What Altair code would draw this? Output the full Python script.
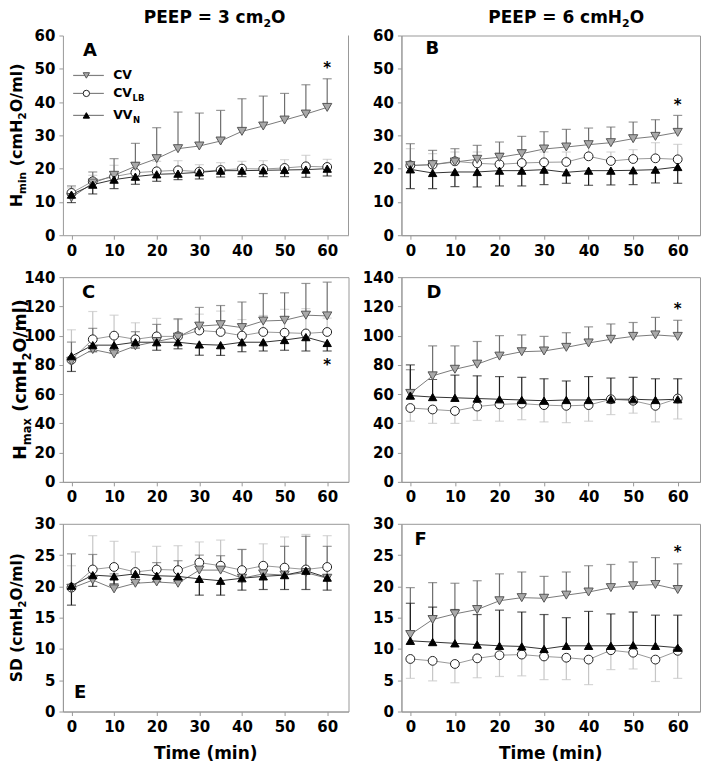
import altair as alt
import pandas as pd

TIME = [0, 5, 10, 15, 20, 25, 30, 35, 40, 45, 50, 55, 60]
XTICKS = [0, 10, 20, 30, 40, 50, 60]

# Panel A: Hmin, PEEP 3
A_CV = [11.3, 15.7, 18.0, 20.7, 23.0, 26.0, 26.8, 28.3, 31.2, 32.8, 34.6, 36.4, 38.4]
A_CV_HI = [14.8, 19.0, 23.0, 27.6, 32.3, 37.0, 36.7, 37.5, 41.0, 41.8, 42.6, 45.2, 47.0]
A_LB = [12.7, 16.2, 17.6, 18.8, 19.2, 19.5, 19.1, 19.6, 20.0, 19.9, 20.2, 20.7, 20.5]
A_LB_HI = [14.2, 18.0, 21.0, 22.0, 22.2, 22.4, 21.2, 21.8, 22.2, 22.4, 22.7, 24.0, 22.8]
A_VV = [12.2, 15.2, 16.7, 17.6, 18.3, 18.5, 18.9, 19.4, 19.4, 19.5, 19.6, 19.7, 20.0]
A_VV_LO = [9.8, 12.4, 14.0, 15.3, 16.2, 16.7, 16.9, 17.5, 17.6, 17.6, 17.6, 17.4, 17.8]

# Panel B: Hmin, PEEP 6
B_CV = [20.9, 21.2, 22.0, 22.8, 23.4, 24.5, 25.9, 26.5, 27.2, 27.8, 29.0, 29.7, 30.9]
B_CV_HI = [27.5, 25.5, 26.0, 27.0, 28.0, 29.7, 31.1, 31.8, 32.2, 32.5, 34.0, 34.7, 36.0]
B_LB = [21.0, 21.2, 22.2, 21.6, 21.3, 21.7, 21.9, 22.0, 23.7, 22.3, 22.9, 23.1, 22.8]
B_LB_HI = [26.0, 24.5, 25.0, 25.0, 24.8, 25.5, 25.0, 25.0, 27.5, 25.0, 25.7, 27.8, 27.3]
B_VV = [19.8, 18.7, 19.0, 19.0, 19.4, 19.4, 19.7, 18.9, 19.4, 19.4, 19.5, 19.7, 20.5]
B_VV_LO = [14.0, 14.0, 14.6, 14.5, 14.8, 14.8, 15.2, 15.6, 15.0, 15.1, 15.2, 15.7, 15.6]

# Panel C: Hmax, PEEP 3
C_CV = [82.5, 90.5, 87.5, 93.0, 96.0, 99.0, 106.5, 107.5, 105.5, 110.0, 110.5, 114.0, 113.5]
C_CV_HI = [95.6, 105.0, 99.0, 102.7, 107.7, 111.5, 119.3, 120.6, 123.0, 128.8, 129.3, 135.7, 136.6]
C_LB = [83.5, 97.5, 100.0, 97.5, 99.5, 99.5, 103.5, 102.5, 100.0, 102.5, 102.0, 101.5, 102.5]
C_LB_HI = [104.0, 116.5, 114.0, 108.8, 111.8, 111.0, 114.7, 116.8, 111.0, 113.8, 118.0, 118.5, 112.0]
C_VV = [86.0, 93.5, 93.5, 95.5, 95.5, 95.5, 94.0, 93.5, 95.5, 95.5, 97.0, 99.0, 95.0]
C_VV_LO = [75.5, 89.0, 88.0, 91.5, 90.0, 91.0, 86.6, 86.5, 89.0, 89.5, 90.0, 89.5, 89.5]

# Panel D: Hmax, PEEP 6
D_CV = [60.5, 72.5, 77.0, 80.5, 86.0, 89.0, 89.5, 92.0, 95.0, 97.5, 99.5, 100.5, 99.5]
D_CV_HI = [76.7, 93.0, 93.0, 96.0, 100.0, 100.5, 99.5, 102.0, 106.0, 108.0, 109.0, 112.5, 110.5]
D_LB = [50.5, 49.5, 48.5, 51.5, 53.0, 53.5, 52.5, 52.0, 52.5, 56.5, 55.5, 52.0, 57.0]
D_LB_LO = [41.5, 40.0, 40.0, 42.0, 41.5, 42.5, 41.0, 40.5, 41.5, 46.0, 47.0, 41.0, 43.0]
D_VV = [59.0, 58.0, 57.5, 57.0, 56.5, 56.0, 55.5, 56.0, 56.0, 56.5, 56.5, 56.0, 56.5]
D_VV_HI = [80.0, 70.0, 73.0, 72.5, 72.0, 71.5, 70.5, 69.0, 72.0, 71.0, 71.5, 70.5, 70.5]

# Panel E: SD, PEEP 3
E_CV = [19.7, 21.0, 19.6, 20.5, 20.7, 20.5, 22.6, 22.6, 21.3, 22.0, 21.8, 22.2, 21.3]
E_CV_HI = [25.2, 25.1, 22.0, 22.6, 23.8, 24.1, 25.0, 24.9, 25.9, 22.5, 26.4, 28.0, 26.4]
E_LB = [19.8, 22.7, 23.1, 22.3, 22.7, 22.6, 23.8, 23.3, 22.6, 23.3, 23.0, 22.7, 23.1]
E_LB_HI = [23.3, 28.1, 27.2, 25.5, 26.4, 26.5, 27.1, 27.4, 25.9, 26.8, 27.9, 28.3, 28.1]
E_VV = [20.1, 21.8, 21.6, 22.0, 21.7, 21.6, 21.2, 20.9, 21.3, 21.6, 21.8, 22.5, 21.4]
E_VV_LO = [17.0, 20.0, 20.4, 20.6, 20.8, 20.8, 18.6, 18.6, 19.4, 19.5, 19.5, 19.5, 19.4]

# Panel F: SD, PEEP 6
F_CV = [12.3, 14.7, 15.6, 16.3, 17.7, 18.2, 18.1, 18.6, 19.1, 19.8, 20.1, 20.3, 19.5]
F_CV_HI = [19.8, 20.6, 20.5, 20.9, 22.0, 22.3, 21.6, 22.3, 23.3, 23.5, 23.9, 24.6, 23.6]
F_LB = [8.4, 8.1, 7.6, 8.5, 9.0, 9.1, 8.8, 8.6, 8.3, 9.8, 9.4, 8.3, 9.7]
F_LB_LO = [5.3, 4.9, 4.6, 5.4, 5.6, 5.7, 5.1, 5.1, 4.3, 6.7, 6.8, 4.8, 5.3]
F_VV = [11.3, 11.1, 10.9, 10.7, 10.5, 10.4, 10.0, 10.5, 10.5, 10.5, 10.6, 10.5, 10.2]
F_VV_HI = [17.3, 16.7, 16.3, 15.5, 16.2, 15.9, 15.5, 15.0, 16.0, 15.6, 15.9, 15.4, 15.4]

LEGEND_NAMES = ["CV", "CV_LB", "VV_N"]
LEGEND_MAIN = ["CV", "CV", "VV"]
LEGEND_SUB = ["", "LB", "N"]
LEGEND_Y = [48.0, 42.6, 36.0]

FONT = "DejaVu Sans"
CW = {' ': 0.348, '(': 0.457, ')': 0.457, '/': 0.365, '=': 0.838, 'A': 0.774, 'B': 0.762,
      'C': 0.734, 'D': 0.830, 'E': 0.683, 'H': 0.837, 'L': 0.637, 'N': 0.837, 'O': 0.850,
      'P': 0.733, 'S': 0.720, 'T': 0.682, 'V': 0.774, 'a': 0.675, 'c': 0.593, 'e': 0.678,
      'i': 0.343, 'l': 0.343, 'm': 1.042, 'n': 0.712, 'x': 0.663}
for d in "0123456789":
    CW[d] = 0.696


def tw(s, fs):
    return sum(CW.get(c, 0.6) for c in s) * fs


STYLE = {
    "CV": dict(line="#7a7a7a", err="#6e6e6e", shape="triangle-down", fill="#a9a9a9", stroke="#555555", size=85),
    "CV_LB": dict(line="#9a9a9a", err="#c6c6c6", shape="circle", fill="white", stroke="#222222", size=78),
    "VV_N": dict(line="#333333", err="#1c1c1c", shape="triangle-up", fill="black", stroke="black", size=70),
}


def one(label):
    return pd.DataFrame({"label": [label]})


def seg_text(segs, fs, fss, x, y, angle, sub_dy):
    widths = [tw(t, fss if sub else fs) for t, sub in segs]
    layers = []
    cum = 0.0
    for (t, sub), wd in zip(segs, widths):
        lead = len(t) - len(t.lstrip(' '))
        cum_draw = cum + lead * CW[' '] * (fss if sub else fs)
        kw = dict(align="left", baseline="alphabetic", font=FONT, fontWeight="bold",
                  fontSize=fss if sub else fs, dx=cum_draw, dy=(sub_dy if sub else 0), color="black")
        if angle:
            kw["angle"] = angle
        layers.append(alt.Chart(one(t.strip())).mark_text(**kw).encode(
            x=alt.value(x), y=alt.value(y), text="label:N"))
        cum += wd
    return layers, sum(widths)


def panel(series, ydom, yvals, w, h, letter, lpos, star=None, ytitle=None,
          coltitle=None, xtitle=False, legend=False, open_top=False):
    xs = alt.Scale(domain=[-2, 65], nice=False, zero=False)
    ys = alt.Scale(domain=ydom, nice=False, zero=False)
    xax = alt.Axis(values=XTICKS, title=None)
    yax = alt.Axis(values=yvals, title=None)

    def X():
        return alt.X("time:Q", scale=xs, axis=xax)

    def Y(f):
        return alt.Y(f + ":Q", scale=ys, axis=yax)

    dfs = []
    for name, vals, ends in series:
        dfs.append((name, pd.DataFrame({"time": TIME, "value": vals, "end": ends})))

    layers = []
    for name, df in dfs:
        st = STYLE[name]
        b = alt.Chart(df)
        layers.append(b.mark_rule(color=st["err"], strokeWidth=1.2).encode(
            x=X(), y=Y("value"), y2=alt.Y2("end:Q")))
        layers.append(b.mark_tick(orient="horizontal", size=9, thickness=1.2, color=st["err"]).encode(
            x=X(), y=Y("end")))
    for name, df in dfs:
        st = STYLE[name]
        layers.append(alt.Chart(df).mark_line(color=st["line"], strokeWidth=1).encode(
            x=X(), y=Y("value")))
    for name, df in dfs:
        st = STYLE[name]
        layers.append(alt.Chart(df).mark_point(
            shape=st["shape"], filled=True, fill=st["fill"], stroke=st["stroke"], strokeWidth=1,
            size=st["size"], opacity=1, fillOpacity=1).encode(x=X(), y=Y("value")))

    if legend:
        for i, name in enumerate(LEGEND_NAMES):
            st = STYLE[name]
            ldf = pd.DataFrame({"x1": [0.4], "x2": [7.6], "xs": [3.5], "xt": [9.8], "y": [LEGEND_Y[i]],
                                "main": [LEGEND_MAIN[i]], "sub": [LEGEND_SUB[i]]})
            lb = alt.Chart(ldf)
            layers.append(lb.mark_rule(color="#808080", strokeWidth=1.2).encode(
                x=alt.X("x1:Q", scale=xs, axis=xax), x2="x2:Q", y=Y("y")))
            layers.append(lb.mark_point(shape=st["shape"], filled=True, fill=st["fill"], stroke=st["stroke"],
                                        strokeWidth=1, size=40, opacity=1).encode(
                x=alt.X("xs:Q", scale=xs, axis=xax), y=Y("y")))
            layers.append(lb.mark_text(align="left", baseline="middle", font=FONT, fontWeight="bold",
                                       fontSize=12.5, color="black").encode(
                x=alt.X("xt:Q", scale=xs, axis=xax), y=Y("y"), text="main:N"))
            if LEGEND_SUB[i]:
                layers.append(lb.mark_text(align="left", baseline="middle", font=FONT, fontWeight="bold",
                                           fontSize=8.5, color="black", dx=tw(LEGEND_MAIN[i], 12.5) + 0.5,
                                           dy=5).encode(
                    x=alt.X("xt:Q", scale=xs, axis=xax), y=Y("y"), text="sub:N"))

    layers.append(alt.Chart(one(letter)).mark_text(
        align="left", baseline="alphabetic", font=FONT, fontWeight="bold", fontSize=18, color="black").encode(
        x=alt.value(lpos[0]), y=alt.value(lpos[1]), text="label:N"))

    if star is not None:
        sdf = pd.DataFrame({"time": [star[0]], "value": [star[1]], "label": ["*"]})
        layers.append(alt.Chart(sdf).mark_text(
            align="center", baseline="middle", font=FONT, fontWeight="bold", fontSize=15, color="black",
            dy=3).encode(x=X(), y=Y("value"), text="label:N"))

    if ytitle is not None:
        segs, fs, fss, xpos = ytitle
        total = sum(tw(t, fss if s else fs) for t, s in segs)
        tl, _ = seg_text(segs, fs, fss, xpos, h / 2 + total / 2, 270, round(fs * 0.27, 1))
        layers += tl

    if coltitle is not None:
        segs, xpos = coltitle
        tl, _ = seg_text(segs, 17, 11, xpos, -12.5, 0, 4)
        layers += tl

    if xtitle:
        layers.append(alt.Chart(one("Time (min)")).mark_text(
            align="center", baseline="middle", font=FONT, fontWeight="bold", fontSize=17, color="black").encode(
            x=alt.value(w / 2), y=alt.value(h + 43), text="label:N"))

    if open_top:
        layers.append(alt.Chart(one("")).mark_rule(color="#999999", strokeWidth=1).encode(
            x=alt.value(w), y=alt.value(0), y2=alt.value(h)))

    ch = alt.layer(*layers).properties(width=w, height=h)
    if open_top:
        ch = ch.properties(view=alt.ViewBackground(stroke="transparent"))
    return ch


WL, WR = 286, 299
pA = panel([("CV_LB", A_LB, A_LB_HI), ("CV", A_CV, A_CV_HI), ("VV_N", A_VV, A_VV_LO)],
           [0, 60], [0, 10, 20, 30, 40, 50, 60], WL, 200, "A", (20, 21), star=(60, 51),
           ytitle=([("H", False), ("min", True), (" (cmH", False), ("2", True), ("O/ml)", False)], 16, 10.5, -41),
           coltitle=([("PEEP = 3 cm", False), ("2", True), ("O", False)], 81),
           legend=True, open_top=True)
pB = panel([("CV_LB", B_LB, B_LB_HI), ("CV", B_CV, B_CV_HI), ("VV_N", B_VV, B_VV_LO)],
           [0, 60], [0, 10, 20, 30, 40, 50, 60], WR, 200, "B", (24, 19), star=(60, 40),
           coltitle=([("PEEP = 6 cmH", False), ("2", True), ("O", False)], 87))
pC = panel([("CV_LB", C_LB, C_LB_HI), ("CV", C_CV, C_CV_HI), ("VV_N", C_VV, C_VV_LO)],
           [0, 140], [0, 20, 40, 60, 80, 100, 120, 140], WL, 205, "C", (19, 21), star=(60, 82),
           ytitle=([("H", False), ("max", True), (" (cmH", False), ("2", True), ("O/ml)", False)], 17.5, 11.5, -37))
pD = panel([("CV_LB", D_LB, D_LB_LO), ("CV", D_CV, D_CV_HI), ("VV_N", D_VV, D_VV_HI)],
           [0, 140], [0, 20, 40, 60, 80, 100, 120, 140], WR, 205, "D", (25, 21), star=(60, 120))
pE = panel([("CV_LB", E_LB, E_LB_HI), ("CV", E_CV, E_CV_HI), ("VV_N", E_VV, E_VV_LO)],
           [0, 30], [0, 5, 10, 15, 20, 25, 30], WL, 188, "E", (11, 174),
           ytitle=([("SD (cmH", False), ("2", True), ("O/ml)", False)], 15.5, 10, -41), xtitle=True)
pF = panel([("CV_LB", F_LB, F_LB_LO), ("CV", F_CV, F_CV_HI), ("VV_N", F_VV, F_VV_HI)],
           [0, 30], [0, 5, 10, 15, 20, 25, 30], WR, 188, "F", (13, 21), star=(60, 26), xtitle=True)

chart = alt.concat(pA, pB, pC, pD, pE, pF, columns=2, spacing={"row": 42, "column": 53},
                   bounds="flush", align="each").properties(
    padding=0, background="white"
).configure_view(stroke="#999999", strokeWidth=1).configure_axis(
    labelFont=FONT, labelFontWeight="bold", labelFontSize=15, labelColor="black",
    domainColor="#999999", tickColor="#999999", tickSize=4, labelPadding=4, grid=False
)

chart.save("out.html", embed_options={"renderer": "svg", "actions": False})
